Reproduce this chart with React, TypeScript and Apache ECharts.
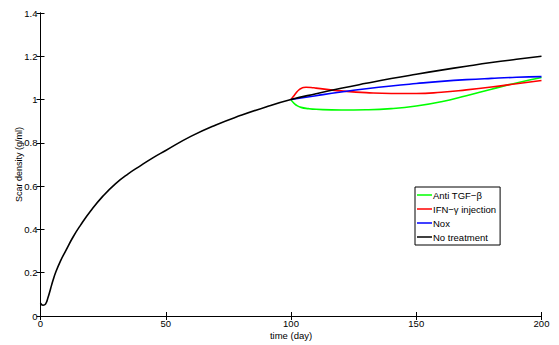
import React, { useEffect, useRef } from "react";
import * as echarts from "echarts";

const blackT = [0, 1, 2, 3, 4, 5, 6, 8, 10, 13, 16, 20, 25, 30, 35, 40, 45, 50, 60, 70, 80, 90, 100, 110, 120, 130, 140, 150, 160, 170, 180, 190, 200];
const blackV = [0.06, 0.05, 0.055, 0.085, 0.125, 0.165, 0.2, 0.255, 0.3, 0.365, 0.42, 0.485, 0.555, 0.612, 0.657, 0.695, 0.732, 0.765, 0.83, 0.883, 0.927, 0.966, 1.0, 1.027, 1.052, 1.075, 1.097, 1.117, 1.136, 1.154, 1.171, 1.186, 1.2];

const greenT = [100, 101, 102, 104, 107, 110, 120, 130, 140, 150, 160, 170, 180, 190, 200];
const greenV = [1.0, 0.985, 0.975, 0.964, 0.958, 0.955, 0.952, 0.953, 0.958, 0.97, 0.99, 1.018, 1.048, 1.077, 1.102];

const redT = [100, 101, 102, 103, 104, 105, 106, 108, 110, 115, 120, 130, 140, 150, 160, 170, 180, 190, 200];
const redV = [1.0, 1.015, 1.03, 1.043, 1.051, 1.056, 1.057, 1.056, 1.053, 1.046, 1.04, 1.032, 1.028, 1.028, 1.034, 1.045, 1.058, 1.073, 1.088];

const blueT = [100, 110, 120, 130, 140, 150, 160, 170, 180, 190, 200];
const blueV = [1.0, 1.018, 1.035, 1.05, 1.063, 1.074, 1.084, 1.092, 1.098, 1.103, 1.106];

const seriesNames = ["Anti TGF\u2212\u03b2", "IFN\u2212\u03b3 injection", "Nox", "No treatment"];
const seriesColors = ["#00ff00", "#ff0000", "#0000ff", "#000000"];

const zip = (t: number[], v: number[]) => t.map((x, i) => [x, v[i]]);

export default function App() {
  const ref = useRef<HTMLDivElement>(null);
  useEffect(() => {
    if (!ref.current) return;
    const chart = echarts.init(ref.current, undefined, { renderer: "svg" });
    const font = "Liberation Sans, Arial, Helvetica, sans-serif";
    const datas = [zip(greenT, greenV), zip(redT, redV), zip(blueT, blueV), zip(blackT, blackV)];
    const axisCommon = {
      axisLine: { show: true, lineStyle: { color: "#000", width: 1 } },
      axisTick: { show: true, inside: true, length: 4, lineStyle: { color: "#000" } },
      splitLine: { show: false },
    };
    chart.setOption({
      animation: false,
      backgroundColor: "#fff",
      grid: { left: 40.5, top: 13, width: 501, height: 303, containLabel: false, outerBoundsMode: "none" },
      legend: {
        left: 415,
        top: 187,
        orient: "vertical",
        data: seriesNames.map((n) => ({ name: n, icon: "rect" })),
        itemWidth: 15,
        itemHeight: 1.5,
        itemGap: 4,
        padding: [3, 4, 3, 2],
        borderColor: "#000",
        borderWidth: 1,
        backgroundColor: "#fff",
        textStyle: { fontFamily: font, fontSize: 9.5, color: "#000", lineHeight: 10, padding: [0, 0, 0, -4] },
      },
      xAxis: [
        {
          type: "value",
          min: 0,
          max: 200,
          interval: 50,
          name: "time (day)",
          nameLocation: "middle",
          nameGap: 14,
          nameMoveOverlap: false,
          nameTextStyle: { fontFamily: font, fontSize: 9.5, color: "#000", verticalAlign: "top" },
          axisLabel: { fontFamily: font, fontSize: 9.5, color: "#000", margin: 2 },
          ...axisCommon,
        },
        {
          type: "value",
          position: "top",
          min: 0,
          max: 200,
          interval: 50,
          axisLabel: { show: false },
          ...axisCommon,
        },
      ],
      yAxis: [
        {
          type: "value",
          min: 0,
          max: 1.4,
          interval: 0.2,
          name: "Scar density (g/ml)",
          nameLocation: "middle",
          nameGap: 17,
          nameMoveOverlap: false,
          nameRotate: 90,
          nameTextStyle: { fontFamily: font, fontSize: 9, color: "#000", verticalAlign: "bottom" },
          axisLabel: { fontFamily: font, fontSize: 9.5, color: "#000", margin: 3 },
          ...axisCommon,
        },
        {
          type: "value",
          position: "right",
          min: 0,
          max: 1.4,
          interval: 0.2,
          axisLabel: { show: false },
          ...axisCommon,
        },
      ],
      series: seriesNames.map((n, i) => ({
        name: n,
        type: "line",
        data: datas[i],
        smooth: true,
        showSymbol: false,
        symbol: "none",
        lineStyle: { color: seriesColors[i], width: 1.6 },
        itemStyle: { color: seriesColors[i] },
        z: 2 + i,
      })),
    });
    return () => chart.dispose();
  }, []);
  return <div ref={ref} style={{ width: 559, height: 345, position: "absolute", left: 0, top: 0 }} />;
}
